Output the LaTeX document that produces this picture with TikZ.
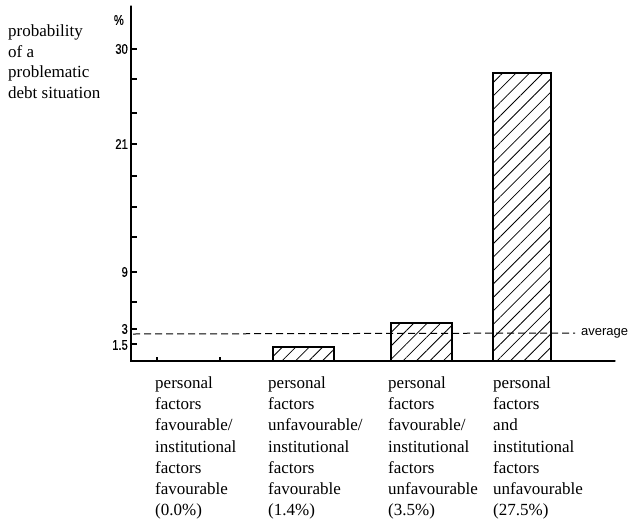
\documentclass[tikz,border=0pt]{standalone}
\usepackage{fontspec}
\setmainfont{Liberation Serif}
\newfontfamily\tickfont[FakeStretch=0.8,FakeBold=0.6]{Liberation Sans}
\newfontfamily\avgfont{Liberation Sans}
\usetikzlibrary{patterns.meta}
\begin{document}
\begin{tikzpicture}[x=1pt,y=-1pt,
  axisline/.style={line width=1.3pt,line cap=round},
  tickmark/.style={line width=1.1pt},
  barbox/.style={draw,line width=1.2pt,pattern={Lines[angle=45,distance=9.5pt,line width=0.8pt]}},
  ticklabel/.style={font=\tickfont\fontsize{14}{14}\selectfont,anchor=east,inner sep=0},
  catlabel/.style={font=\fontsize{17}{21.2}\selectfont,align=left,anchor=north west,inner sep=0},
  avgline/.style={line width=1pt,dash pattern=on 7pt off 4pt}]
\useasboundingbox (0,0) rectangle (631,522);
% axes
\coordinate (top) at (131,6);
\coordinate (origin) at (131,361);
\coordinate (xend) at (615,361);
\draw[axisline] (top) -- (origin) -- (xend);
% y ticks
\foreach \yy in {49,79,113,144,176,207,237,272,302,329,344}
  \draw[tickmark] (131,\yy) -- ++(6,0);
% x ticks
\foreach \xx in {157,220}
  \draw[tickmark] (\xx,361) -- ++(0,-4);
% tick labels
\node[ticklabel] (pct) at (124,20) {\%};
\node[ticklabel] (l30) at (128,49) {30};
\node[ticklabel] (l21) at (128,144) {21};
\node[ticklabel] (l9) at (128,272) {9};
\node[ticklabel] (l3) at (128,329) {3};
\node[ticklabel] (l15) at (128,345) {1.5};
% y title
\node[catlabel,font=\fontsize{17}{20.7}\selectfont] (ytitle) at (8,24.5)
  {probability\\of a\\problematic\\debt situation};
% bars
\draw[barbox] (273,347) rectangle (334,361);
\draw[barbox] (391,323) rectangle (452,361);
\draw[barbox] (493,73) rectangle (551,361);
% average line
\coordinate (avgstart) at (133,334);
\node[font=\avgfont\fontsize{13}{13}\selectfont,anchor=west,inner sep=0] (avg) at (581,333) {average};
\draw[avgline] (avgstart) -- (avg.west -| 575,334);
% category labels
\node[catlabel] (c1) at (155,376.5) {personal\\factors\\favourable/\\institutional\\factors\\favourable\\(0.0\%)};
\node[catlabel] (c2) at (268,376.5) {personal\\factors\\unfavourable/\\institutional\\factors\\favourable\\(1.4\%)};
\node[catlabel] (c3) at (388,376.5) {personal\\factors\\favourable/\\institutional\\factors\\unfavourable\\(3.5\%)};
\node[catlabel] (c4) at (493,376.5) {personal\\factors\\and\\institutional\\factors\\unfavourable\\(27.5\%)};
\end{tikzpicture}
\end{document}
